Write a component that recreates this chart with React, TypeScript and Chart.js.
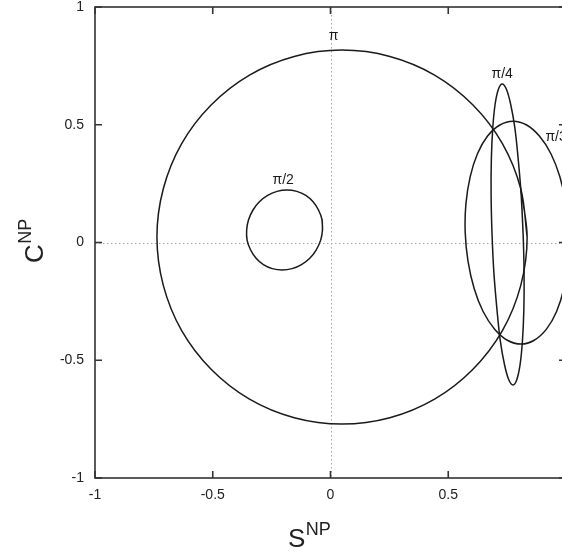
import { useEffect, useRef } from 'react';
import { Chart, registerables } from 'chart.js';

Chart.register(...registerables);

type Pt = [number, number];

// Closed trajectories in the (S^NP, C^NP) plane, one per phase value.
const curvePi: Pt[] = [
  [0.835, 0.023], [0.808, 0.228], [0.730, 0.420], [0.605, 0.584], [0.442, 0.711], [0.252, 0.790],
  [0.049, 0.817], [-0.154, 0.790], [-0.344, 0.711], [-0.507, 0.584], [-0.632, 0.420], [-0.710, 0.228],
  [-0.737, 0.023], [-0.710, -0.182], [-0.632, -0.374], [-0.507, -0.538], [-0.344, -0.665], [-0.154, -0.744],
  [0.049, -0.771], [0.252, -0.744], [0.442, -0.665], [0.605, -0.538], [0.730, -0.374], [0.808, -0.182],
];

const curvePiHalf: Pt[] = [
  [-0.034, 0.053], [-0.036, 0.097], [-0.051, 0.138], [-0.074, 0.173], [-0.105, 0.200], [-0.143, 0.217],
  [-0.185, 0.223], [-0.227, 0.217], [-0.267, 0.200], [-0.302, 0.173], [-0.329, 0.138], [-0.348, 0.097],
  [-0.356, 0.053], [-0.354, 0.009], [-0.339, -0.032], [-0.316, -0.067], [-0.285, -0.094], [-0.247, -0.111],
  [-0.205, -0.117], [-0.163, -0.111], [-0.123, -0.094], [-0.088, -0.067], [-0.061, -0.032], [-0.042, 0.009],
];

const curvePiQuarter: Pt[] = [
  [0.818, 0.034], [0.810, 0.199], [0.797, 0.354], [0.783, 0.486], [0.765, 0.587], [0.747, 0.651],
  [0.729, 0.673], [0.713, 0.651], [0.699, 0.587], [0.689, 0.486], [0.683, 0.354], [0.682, 0.199],
  [0.686, 0.034], [0.694, -0.131], [0.707, -0.286], [0.721, -0.418], [0.739, -0.519], [0.757, -0.583],
  [0.775, -0.605], [0.791, -0.583], [0.805, -0.519], [0.815, -0.418], [0.821, -0.286], [0.822, -0.131],
];

const curvePiThird: Pt[] = [
  [1.012, 0.042], [1.000, 0.164], [0.974, 0.279], [0.936, 0.377], [0.887, 0.452], [0.833, 0.499],
  [0.775, 0.515], [0.719, 0.499], [0.667, 0.452], [0.624, 0.377], [0.593, 0.279], [0.575, 0.164],
  [0.572, 0.042], [0.584, -0.080], [0.610, -0.195], [0.648, -0.293], [0.697, -0.368], [0.751, -0.415],
  [0.809, -0.431], [0.865, -0.415], [0.917, -0.368], [0.960, -0.293], [0.991, -0.195], [1.009, -0.080],
];

const curves: Pt[][] = [curvePi, curvePiHalf, curvePiQuarter, curvePiThird];
const curveNames = ['π', 'π/2', 'π/4', 'π/3'];
const labelX = [0.013, -0.201, 0.729, 0.958];
const labelY = [0.877, 0.265, 0.716, 0.448];

const xTicks = [-1, -0.5, 0, 0.5, 1];
const xTickLabels = ['-1', '-0.5', '0', '0.5', '1'];
const yTicks = [-1, -0.5, 0, 0.5, 1];
const yTickLabels = ['-1', '-0.5', '0', '0.5', '1'];

const FONT = '"Liberation Sans", Arial, Helvetica, sans-serif';
const INK = '#1a1a1a';

// Repeat the first two points so the spline closes smoothly.
function closeLoop(pts: Pt[]) {
  return [...pts, pts[0], pts[1]].map(([x, y]) => ({ x, y }));
}

const framePlugin = {
  id: 'gnuplotFrame',
  beforeDatasetsDraw(chart: any) {
    const { ctx, chartArea: a, scales } = chart;
    const x0 = scales.x.getPixelForValue(0);
    const y0 = scales.y.getPixelForValue(0);
    ctx.save();
    ctx.strokeStyle = '#a8a8a8';
    ctx.lineWidth = 1;
    ctx.setLineDash([1.5, 2.5]);
    ctx.beginPath();
    ctx.moveTo(Math.round(x0) + 0.5, a.top);
    ctx.lineTo(Math.round(x0) + 0.5, a.bottom);
    ctx.moveTo(a.left, Math.round(y0) + 0.5);
    ctx.lineTo(a.right, Math.round(y0) + 0.5);
    ctx.stroke();
    ctx.restore();
  },
  afterDatasetsDraw(chart: any) {
    const { ctx, chartArea: a, scales } = chart;
    const tl = 7;
    ctx.save();
    ctx.strokeStyle = '#333333';
    ctx.lineWidth = 1.6;
    ctx.beginPath();
    xTicks.forEach((v) => {
      const px = scales.x.getPixelForValue(v);
      ctx.moveTo(px, a.bottom);
      ctx.lineTo(px, a.bottom - tl);
      ctx.moveTo(px, a.top);
      ctx.lineTo(px, a.top + tl);
    });
    yTicks.forEach((v) => {
      const py = scales.y.getPixelForValue(v);
      ctx.moveTo(a.left, py);
      ctx.lineTo(a.left + tl, py);
      ctx.moveTo(a.right, py);
      ctx.lineTo(a.right - tl, py);
    });
    ctx.stroke();
    ctx.strokeRect(a.left, a.top, a.right - a.left, a.bottom - a.top);

    // curve labels
    ctx.fillStyle = INK;
    ctx.font = `14px ${FONT}`;
    ctx.textAlign = 'center';
    ctx.textBaseline = 'middle';
    curveNames.forEach((name, i) => {
      ctx.fillText(name, scales.x.getPixelForValue(labelX[i]), scales.y.getPixelForValue(labelY[i]));
    });

    // axis titles with superscripts
    ctx.textAlign = 'left';
    ctx.textBaseline = 'alphabetic';
    ctx.fillStyle = '#222222';
    const sx = 288;
    const sy = 547;
    ctx.font = `26px ${FONT}`;
    ctx.fillText('S', sx, sy);
    const sw = ctx.measureText('S').width;
    ctx.font = `18px ${FONT}`;
    ctx.fillText('NP', sx + sw + 0.5, sy - 12);

    ctx.translate(43, 263);
    ctx.rotate(-Math.PI / 2);
    ctx.font = `26px ${FONT}`;
    ctx.fillText('C', 0, 0);
    const cw = ctx.measureText('C').width;
    ctx.font = `18px ${FONT}`;
    ctx.fillText('NP', cw + 0.5, -12);
    ctx.restore();
  },
};

export default function App() {
  const canvasRef = useRef<HTMLCanvasElement | null>(null);

  useEffect(() => {
    const canvas = canvasRef.current;
    if (!canvas) return;
    const chart = new Chart(canvas, {
      type: 'scatter',
      data: {
        datasets: curves.map((pts, i) => ({
          label: curveNames[i],
          data: closeLoop(pts),
          showLine: true,
          borderColor: INK,
          borderWidth: 1.5,
          pointRadius: 0,
          pointHoverRadius: 0,
          tension: 0.34,
          fill: false,
        })),
      },
      options: {
        animation: false,
        responsive: false,
        events: [],
        layout: { padding: { left: 0, top: 7, right: 14, bottom: 0 } },
        elements: { line: { capBezierPoints: false } as any },
        plugins: {
          legend: { display: false },
          tooltip: { enabled: false },
        },
        scales: {
          x: {
            type: 'linear',
            min: -1,
            max: 1,
            grid: { display: false, drawTicks: false },
            border: { display: false },
            afterBuildTicks: (scale: any) => {
              scale.ticks = xTicks.map((v) => ({ value: v }));
            },
            afterFit: (scale: any) => {
              scale.height = 76;
              scale.paddingLeft = 0;
              scale.paddingRight = 0;
            },
            ticks: {
              padding: 9,
              maxRotation: 0,
              autoSkip: false,
              color: '#222222',
              font: { family: FONT, size: 14 },
              callback: (v: any) => xTickLabels[xTicks.indexOf(Number(v))] ?? '',
            },
          },
          y: {
            type: 'linear',
            min: -1,
            max: 1,
            grid: { display: false, drawTicks: false },
            border: { display: false },
            afterBuildTicks: (scale: any) => {
              scale.ticks = yTicks.map((v) => ({ value: v }));
            },
            afterFit: (scale: any) => {
              scale.width = 95;
              scale.paddingTop = 0;
              scale.paddingBottom = 0;
            },
            ticks: {
              padding: 11,
              autoSkip: false,
              color: '#222222',
              font: { family: FONT, size: 14 },
              callback: (v: any) => yTickLabels[yTicks.indexOf(Number(v))] ?? '',
            },
          },
        },
      },
      plugins: [framePlugin],
    });
    return () => chart.destroy();
  }, []);

  return (
    <div
      style={{
        position: 'absolute',
        left: 0,
        top: 0,
        width: 562,
        height: 554,
        overflow: 'hidden',
        background: '#ffffff',
      }}
    >
      <canvas ref={canvasRef} width={580} height={554} style={{ display: 'block' }} />
    </div>
  );
}
